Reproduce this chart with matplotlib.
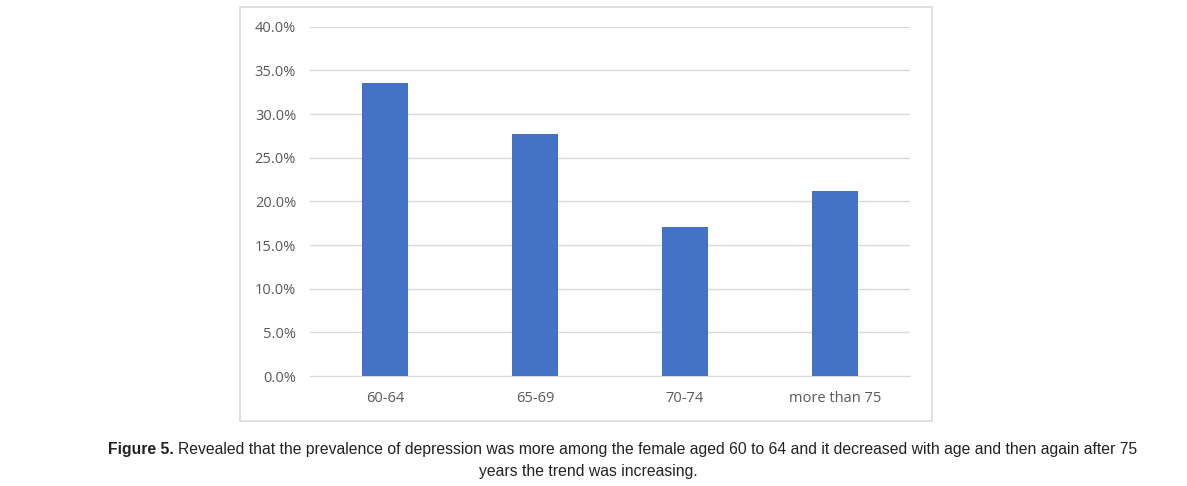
import matplotlib.pyplot as plt
from matplotlib.patches import Rectangle
from matplotlib.ticker import FuncFormatter

# data
age_groups = ['60-64', '65-69', '70-74', 'more than 75']
prevalence = [33.6, 27.7, 17.1, 21.2]
y_ticks = [0, 5, 10, 15, 20, 25, 30, 35, 40]

W, H = 1187, 486
fig = plt.figure(figsize=(W / 100, H / 100), dpi=100)

# chart frame (light grey box around the chart)
fig.patches.append(Rectangle((240 / W, 1 - 421 / H), 692 / W, 414 / H,
                             transform=fig.transFigure, fill=False,
                             edgecolor='#D9D9D9', linewidth=1.2))

ax = fig.add_axes([310 / W, 110 / H, 600 / W, 349.3 / H])
x = range(len(age_groups))
ax.bar(x, prevalence, width=0.31, color='#4472C4', zorder=3)
ax.set_xlim(-0.5, len(age_groups) - 0.5)
ax.set_ylim(0, 40)
ax.set_yticks(y_ticks)
ax.yaxis.set_major_formatter(FuncFormatter(lambda v, p: '%.1f%%' % v))
ax.set_xticks(list(x))
ax.set_xticklabels(age_groups)
ax.grid(axis='y', color='#D9D9D9', linewidth=1, zorder=0)
for s in ['top', 'right', 'left']:
    ax.spines[s].set_visible(False)
ax.spines['bottom'].set_color('#D9D9D9')
ax.tick_params(axis='both', length=0, colors='#595959', labelsize=10.5)
ax.tick_params(axis='y', pad=10)
ax.tick_params(axis='x', pad=11)
for lbl in ax.get_xticklabels() + ax.get_yticklabels():
    lbl.set_family('Open Sans')

# caption
cap_font = 'Liberation Sans'
cap_size = 11.3
t1 = fig.text(108 / W, 1 - 449 / H, 'Figure 5.', fontsize=cap_size, fontweight='bold',
              family=cap_font, va='center', ha='left', color='#222222')
fig.canvas.draw()
bb = t1.get_window_extent(renderer=fig.canvas.get_renderer())
fig.text(bb.x1 / W + 4 / W, 1 - 449 / H,
         'Revealed that the prevalence of depression was more among the female aged 60 to 64 '
         'and it decreased with age and then again after 75',
         fontsize=cap_size, family=cap_font, va='center', ha='left', color='#222222')
fig.text(588 / W, 1 - 471 / H, 'years the trend was increasing.',
         fontsize=cap_size, family=cap_font, va='center', ha='center', color='#222222')

fig.savefig('out.png', dpi=100)
